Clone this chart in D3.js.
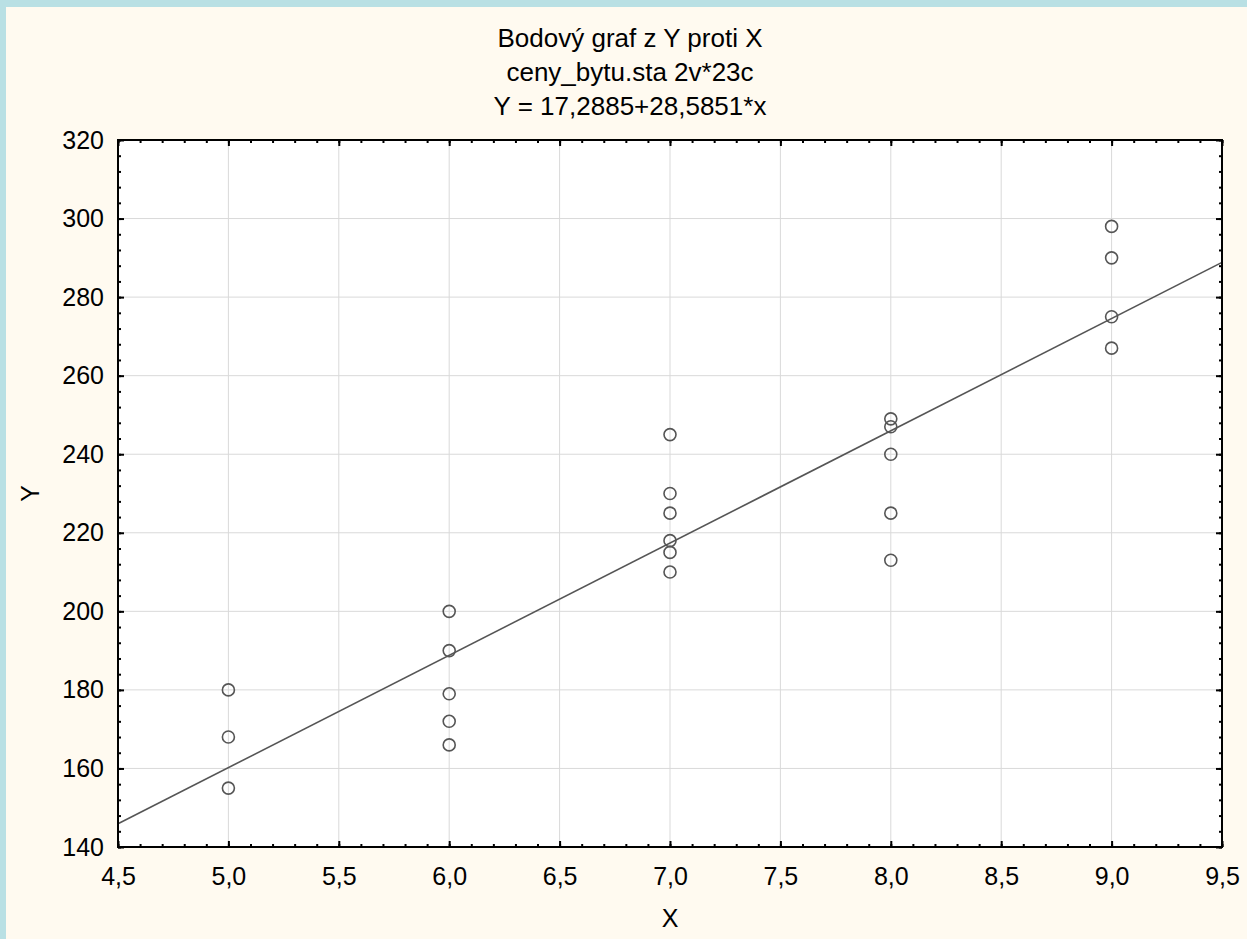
<!DOCTYPE html>
<html>
<head>
<meta charset="utf-8">
<script src="https://cdn.jsdelivr.net/npm/d3@7"></script>
<style>
    html, body { margin: 0; padding: 0; background: #b9e0e4; overflow: hidden; }
    #chart { padding: 7px 0 0 6px; }
    #chart svg { display: block; }
</style>
</head>
<body>
<div id="chart"></div>
<script>
// data
const xs5 = [5, 5, 5];
const ys5 = [180, 168, 155];
const xs6 = [6, 6, 6, 6, 6];
const ys6 = [200, 190, 179, 172, 166];
const xs7 = [7, 7, 7, 7, 7, 7];
const ys7 = [245, 230, 225, 218, 215, 210];
const xs8 = [8, 8, 8, 8, 8];
const ys8 = [249, 247, 240, 225, 213];
const xs9 = [9, 9, 9, 9];
const ys9 = [298, 290, 275, 267];

const xTicks = [4.5, 5.0, 5.5, 6.0, 6.5, 7.0, 7.5, 8.0, 8.5, 9.0, 9.5];
const yTicks = [140, 160, 180, 200, 220, 240, 260, 280, 300, 320];

const intercept = 17.2885;
const slope = 28.5851;

const titleLines = ["Bodový graf z Y proti X", "ceny_bytu.sta 2v*23c", "Y = 17,2885+28,5851*x"];

const points = [];
[[xs5, ys5], [xs6, ys6], [xs7, ys7], [xs8, ys8], [xs9, ys9]].forEach(([a, b]) => {
    a.forEach((v, i) => points.push({ x: v, y: b[i] }));
});

const FONT = "'Liberation Sans', Arial, sans-serif";
const W = 1241, H = 932;
const margin = { top: 133, right: 25, bottom: 92, left: 112 };
const width = W - margin.left - margin.right;
const innerHeight = H - margin.top - margin.bottom;

const svg = d3.select("#chart").append("svg")
    .attr("width", W)
    .attr("height", H)
    .attr("font-family", FONT);

svg.append("rect")
    .attr("width", W).attr("height", H)
    .attr("fill", "#fffaf0");

const g = svg.append("g")
    .attr("transform", `translate(${margin.left}, ${margin.top})`);

const x = d3.scaleLinear().domain([4.5, 9.5]).range([0, width]);
const y = d3.scaleLinear().domain([140, 320]).range([innerHeight, 0]);

const locale = d3.formatLocale({ decimal: ",", thousands: " ", grouping: [3], currency: ["", ""] });
const fmt1 = locale.format(".1f");

// plot background
g.append("rect")
    .attr("width", width).attr("height", innerHeight)
    .attr("fill", "#fff");

// grid
g.selectAll(".gx")
    .data(xTicks)
    .enter()
    .append("line")
    .attr("x1", d => x(d)).attr("x2", d => x(d))
    .attr("y1", 0).attr("y2", innerHeight)
    .attr("stroke", "#d9d9d9")
    .attr("stroke-width", 1);

g.selectAll(".gy")
    .data(yTicks)
    .enter()
    .append("line")
    .attr("x1", 0).attr("x2", width)
    .attr("y1", d => y(d)).attr("y2", d => y(d))
    .attr("stroke", "#d9d9d9")
    .attr("stroke-width", 1);

// regression line
g.append("line")
    .attr("x1", x(4.5)).attr("y1", y(intercept + slope * 4.5))
    .attr("x2", x(9.5)).attr("y2", y(intercept + slope * 9.5))
    .attr("stroke", "#555")
    .attr("stroke-width", 1.6);

// points
g.selectAll(".pt")
    .data(points)
    .enter()
    .append("circle")
    .attr("cx", d => x(d.x))
    .attr("cy", d => y(d.y))
    .attr("r", 6)
    .attr("fill", "none")
    .attr("stroke", "#555")
    .attr("stroke-width", 1.6);

// axes (ticks inward on every side)
const xMinor = d3.range(45, 96).map(d => d / 10);
const yMinor = d3.range(140, 321, 4);

function styleAxis(sel) {
    sel.attr("font-family", FONT).attr("font-size", 25);
    sel.select(".domain").remove();
    sel.selectAll(".tick line").attr("stroke", "#000").attr("stroke-width", 2);
    sel.selectAll(".tick text").attr("fill", "#000");
}
function noLabels(sel) {
    sel.selectAll("text").remove();
}

g.append("g").attr("transform", `translate(0, ${innerHeight})`)
    .call(d3.axisBottom(x).tickValues(xMinor).tickSize(-3))
    .call(styleAxis).call(noLabels);
g.append("g").call(d3.axisTop(x).tickValues(xMinor).tickSize(-3))
    .call(styleAxis).call(noLabels);
g.append("g").call(d3.axisLeft(y).tickValues(yMinor).tickSize(-3))
    .call(styleAxis).call(noLabels);
g.append("g").attr("transform", `translate(${width}, 0)`)
    .call(d3.axisRight(y).tickValues(yMinor).tickSize(-3))
    .call(styleAxis).call(noLabels);

g.append("g").attr("transform", `translate(0, ${innerHeight})`)
    .call(d3.axisBottom(x).tickValues(xTicks).tickSize(-6).tickPadding(20).tickFormat(fmt1))
    .call(styleAxis);
g.append("g").call(d3.axisTop(x).tickValues(xTicks).tickSize(-6))
    .call(styleAxis).call(noLabels);
g.append("g")
    .call(d3.axisLeft(y).tickValues(yTicks).tickSize(-6).tickPadding(14).tickFormat(d3.format("d")))
    .call(styleAxis);
g.append("g").attr("transform", `translate(${width}, 0)`)
    .call(d3.axisRight(y).tickValues(yTicks).tickSize(-6))
    .call(styleAxis).call(noLabels);

// frame
g.append("rect")
    .attr("width", width).attr("height", innerHeight)
    .attr("fill", "none")
    .attr("stroke", "#000")
    .attr("stroke-width", 2);

// title
svg.append("g").selectAll("text")
    .data(titleLines)
    .enter()
    .append("text")
    .attr("x", 624)
    .attr("y", (d, i) => 40 + i * 34)
    .attr("text-anchor", "middle")
    .attr("font-size", 26)
    .attr("fill", "#000")
    .text(d => d);

// axis labels
svg.append("text")
    .attr("x", margin.left + width / 2)
    .attr("y", 920)
    .attr("text-anchor", "middle")
    .attr("font-size", 25)
    .attr("fill", "#000")
    .text("X");

svg.append("text")
    .attr("transform", `translate(33, ${margin.top + innerHeight / 2}) rotate(-90)`)
    .attr("text-anchor", "middle")
    .attr("font-size", 25)
    .attr("fill", "#000")
    .text("Y");
</script>
</body>
</html>
